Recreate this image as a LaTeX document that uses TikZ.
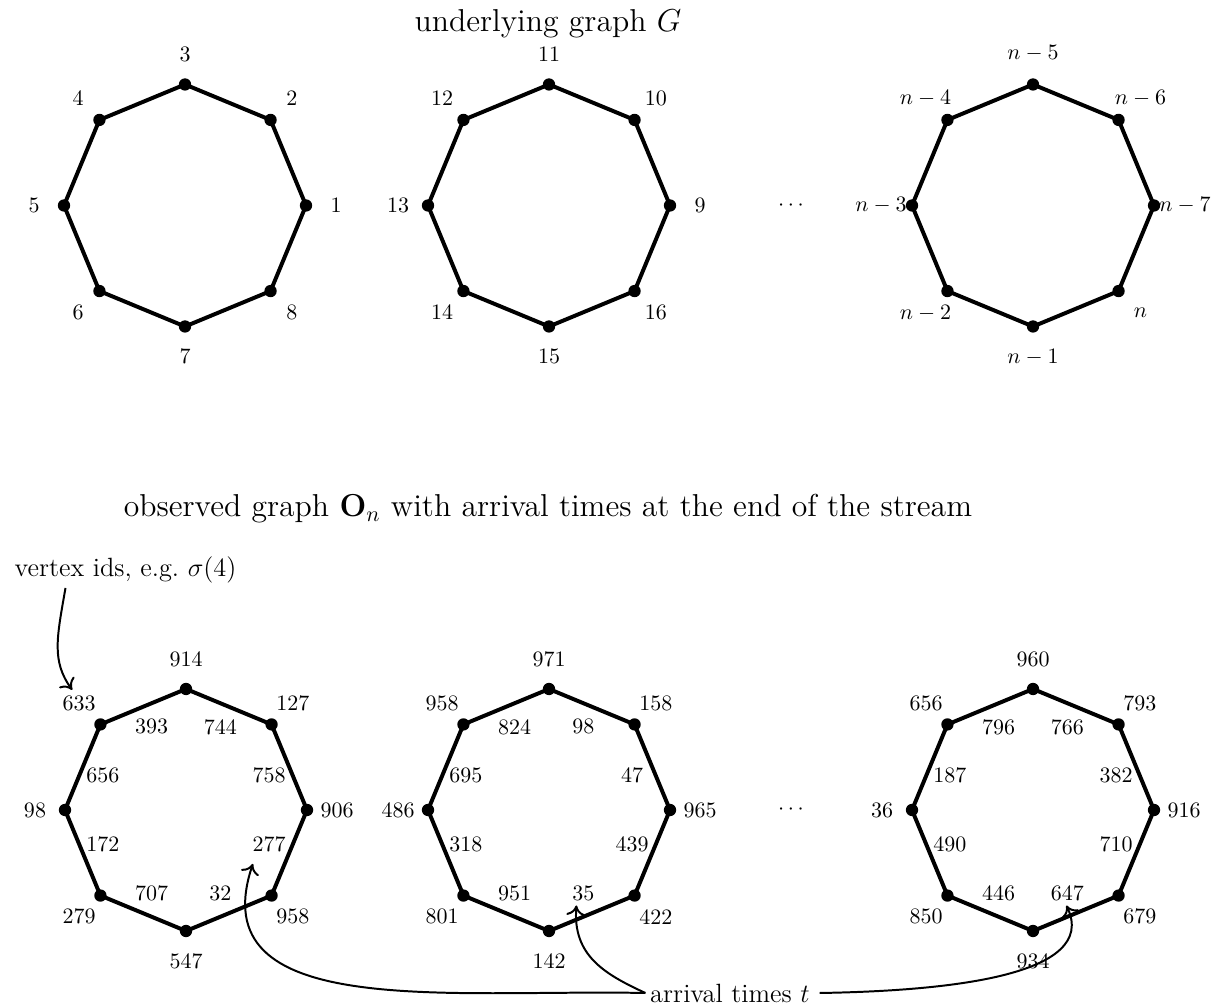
\documentclass[tikz,border=0pt]{standalone}
\usetikzlibrary{calc,arrows.meta}
\begin{document}
\begin{tikzpicture}[x=0.4545pt,y=0.4545pt,
  vtx/.style={circle,fill=black,inner sep=0pt,minimum size=5.6pt},
  ring/.style={line width=1.8pt},
  conn/.style={line width=0.9pt,-{To[length=4.6pt,width=8.5pt]}},
  ttl/.style={font=\Large},
  note/.style={font=\large},
]
\useasboundingbox (0,0) rectangle (1225,1008);

% centres of the octagons
\coordinate (T1) at (185,802.5);
\coordinate (T2) at (549,802.5);
\coordinate (T3) at (1033,802.5);
\coordinate (B1) at (186,198);
\coordinate (B2) at (549,198);
\coordinate (B3) at (1033,198);

\foreach \c in {T1,T2,T3,B1,B2,B3}{
  \foreach \k in {0,...,7}{
    \coordinate (\c v\k) at ($(\c)+(\k*45:121)$);
  }
  \draw[ring] (\c v0)--(\c v1)--(\c v2)--(\c v3)--(\c v4)--(\c v5)--(\c v6)--(\c v7)--cycle;
  \foreach \k in {0,...,7}{
    \node[vtx] (\c d\k) at (\c v\k) {};
  }
}

% titles
\node[ttl] (title1) at (548,984) {underlying graph $G$};
\node[ttl] (title2) at (548,499) {observed graph $\mathbf{O}_n$ with arrival times at the end of the stream};

% dots
\node (dotsT) at (791,802.5) {$\cdots$};
\node (dotsB) at (791,198) {$\cdots$};

% vertex labels, top row
\foreach \k/\t in {0/1,1/2,2/3,3/4,4/5,5/6,6/7,7/8}
  \node (T1l\k) at ($(T1)+(\k*45:151)$) {$\t$};
\foreach \k/\t in {0/9,1/10,2/11,3/12,4/13,5/14,6/15,7/16}
  \node (T2l\k) at ($(T2)+(\k*45:151)$) {$\t$};
\foreach \k/\t in {0/n-7,1/n-6,2/n-5,3/n-4,4/n-3,5/n-2,6/n-1,7/n}
  \node (T3l\k) at ($(T3)+(\k*45:152)$) {$\t$};

% vertex labels, bottom row
\foreach \k/\t in {0/906,1/127,2/914,3/633,4/98,5/279,6/547,7/958}
  \node (B1l\k) at ($(B1)+(\k*45:151)$) {\t};
\foreach \k/\t in {0/965,1/158,2/971,3/958,4/486,5/801,6/142,7/422}
  \node (B2l\k) at ($(B2)+(\k*45:151)$) {\t};
\foreach \k/\t in {0/916,1/793,2/960,3/656,4/36,5/850,6/934,7/679}
  \node (B3l\k) at ($(B3)+(\k*45:151)$) {\t};

% edge labels (arrival times)
\foreach \k/\t in {0/758,1/744,2/393,3/656,4/172,5/707,6/32,7/277}
  \node (B1e\k) at ($(B1)+(\k*45+22.5:90)$) {\t};
\foreach \k/\t in {0/47,1/98,2/824,3/695,4/318,5/951,6/35,7/439}
  \node (B2e\k) at ($(B2)+(\k*45+22.5:90)$) {\t};
\foreach \k/\t in {0/382,1/766,2/796,3/187,4/490,5/446,6/647,7/710}
  \node (B3e\k) at ($(B3)+(\k*45+22.5:90)$) {\t};

% annotations
\node[note] (ids) at (125.5,438) {vertex ids, e.g.\ $\sigma(4)$};
\node[note,inner sep=2pt] (arr) at (730,15) {arrival times $t$};

\draw[conn] ($(ids.south)+(-60,3)$) .. controls +(-8.5,-49) and +(-21,29) .. ($(B1l3.north)+(-7,-2)$);
\draw[conn] (arr.west) .. controls +(-198,4) and +(-53,-157) .. ($(B1e7.south west)+(8,-4)$);
\draw[conn] (arr.west) .. controls +(-41,19) and +(-4,-50) .. ($(B2e6.south)+(-7,3)$);
\draw[conn] ($(arr.east)+(5,0)$) .. controls +(124,2) and +(34,-71) .. ($(B3e6.south)+(-1,3)$);
\end{tikzpicture}
\end{document}
